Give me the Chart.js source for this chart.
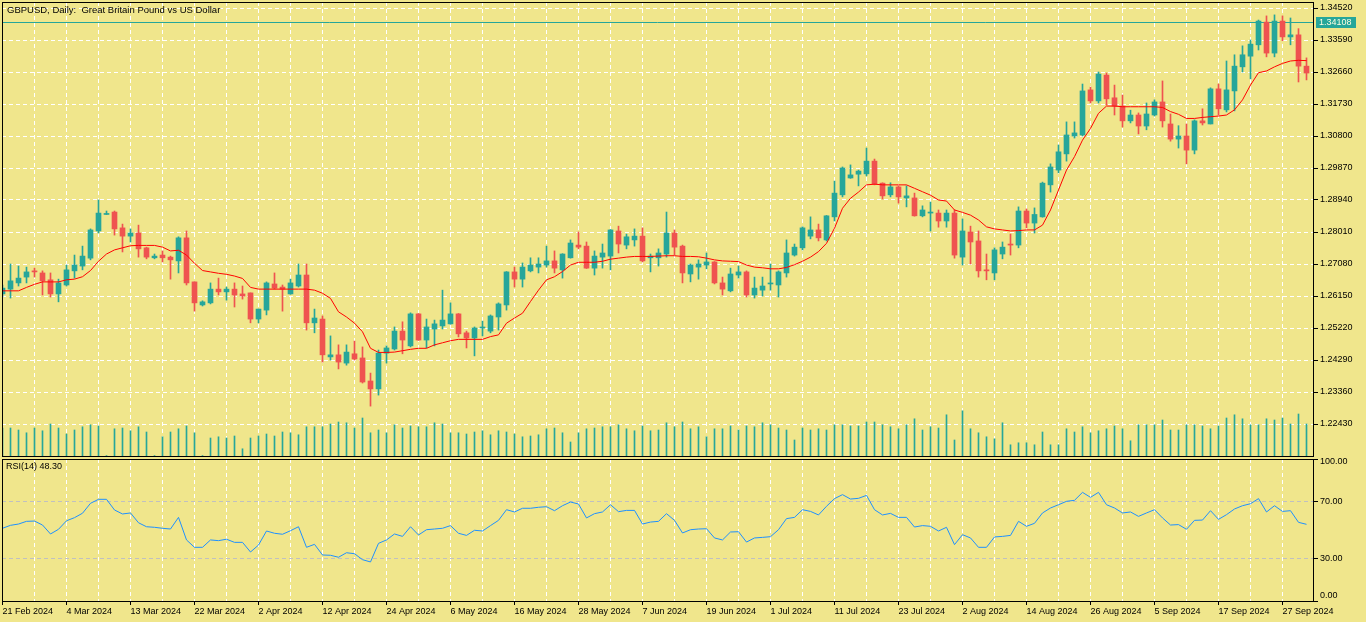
<!DOCTYPE html>
<html>
<head>
<meta charset="utf-8">
<script src="https://cdn.jsdelivr.net/npm/chart.js@4.4.1/dist/chart.umd.min.js"></script>
<style>
    body { margin: 0; background: #f0e68c; overflow: hidden; }
    #wrap { position: relative; width: 1366px; height: 622px; }
    .pane { position: absolute; left: 0; width: 1366px; }
    .txt { position: absolute; font: 9px "Liberation Sans", Arial, sans-serif; color: #000; white-space: pre; line-height: 11px; }
</style>
</head>
<body>
<div id="wrap">
    <div class="pane" style="top:0;height:458px"><canvas id="mainChart"></canvas></div>
    <div class="pane" style="top:456px;height:166px"><canvas id="rsiChart"></canvas></div>
    <div class="txt" style="left:7px;top:4px;font-size:9.5px">GBPUSD, Daily:  Great Britain Pound vs US Dollar</div>
    <div class="txt" style="left:6px;top:461px">RSI(14) 48.30</div>
</div>
<script>
const dateLabels = ['21 Feb 2024', '4 Mar 2024', '13 Mar 2024', '22 Mar 2024', '2 Apr 2024', '12 Apr 2024', '24 Apr 2024',
    '6 May 2024', '16 May 2024', '28 May 2024', '7 Jun 2024', '19 Jun 2024', '1 Jul 2024', '11 Jul 2024', '23 Jul 2024',
    '2 Aug 2024', '14 Aug 2024', '26 Aug 2024', '5 Sep 2024', '17 Sep 2024', '27 Sep 2024'];

const priceTicks = [1.22430, 1.23360, 1.24290, 1.25220, 1.26150, 1.27080, 1.28010, 1.28940, 1.29870, 1.30800, 1.31730, 1.32660, 1.33590, 1.34520];
const rsiTicks = [0, 30, 70, 100];
const currentPrice = 1.34108;

const opens = [1.2621,1.2635,1.2653,1.2670,1.2688,1.2682,1.2662,1.2621,1.2647,1.2688,
    1.2702,1.2725,1.2804,1.2852,1.2859,1.2813,1.2789,1.2798,1.2755,1.2726,
    1.2734,1.2728,1.2717,1.2784,1.2656,1.2589,1.2595,1.2635,1.2627,1.2635,
    1.2621,1.2624,1.2548,1.2574,1.2650,1.2641,1.2621,1.2644,1.2676,1.2537,
    1.2548,1.2438,1.2444,1.2420,1.2447,1.2435,1.2368,1.2345,1.2449,1.2461,
    1.2513,1.2470,1.2563,1.2487,1.2519,1.2528,1.2534,1.2563,1.2508,1.2493,
    1.2522,1.2513,1.2554,1.2589,1.2685,1.2664,1.2688,1.2699,1.2705,1.2717,
    1.2691,1.2726,1.2763,1.2760,1.2696,1.2728,1.2731,1.2804,1.2763,1.2778,
    1.2789,1.2726,1.2726,1.2737,1.2798,1.2760,1.2679,1.2699,1.2705,1.2714,
    1.2653,1.2630,1.2676,1.2685,1.2618,1.2632,1.2650,1.2647,1.2682,1.2734,
    1.2755,1.2789,1.2807,1.2778,1.2845,1.2909,1.2958,1.2969,1.2970,1.3007,
    1.2943,1.2909,1.2932,1.2900,1.2900,1.2848,1.2856,1.2856,1.2833,1.2856,
    1.2728,1.2801,1.2775,1.2691,1.2682,1.2737,1.2766,1.2763,1.2862,1.2827,
    1.2845,1.2938,1.2981,1.3028,1.3080,1.3083,1.3214,1.3182,1.3257,1.3191,
    1.3167,1.3124,1.3141,1.3109,1.3141,1.3179,1.3115,1.3071,1.3080,1.3039,
    1.3124,1.3115,1.3217,1.3156,1.3211,1.3281,1.3312,1.3345,1.3411,1.3321,
    1.3414,1.3368,1.3374,1.3283];

const highs = [1.2647,1.2708,1.2702,1.2699,1.2696,1.2688,1.2682,1.2664,1.2705,1.2734,
    1.2760,1.2810,1.2894,1.2862,1.2862,1.2824,1.2810,1.2821,1.2757,1.2737,
    1.2746,1.2731,1.2787,1.2804,1.2656,1.2601,1.2653,1.2667,1.2641,1.2653,
    1.2644,1.2624,1.2577,1.2656,1.2682,1.2647,1.2664,1.2708,1.2708,1.2577,
    1.2557,1.2499,1.2473,1.2473,1.2484,1.2467,1.2391,1.2458,1.2470,1.2525,
    1.2540,1.2566,1.2564,1.2548,1.2545,1.2632,1.2595,1.2564,1.2513,1.2525,
    1.2542,1.2560,1.2595,1.2686,1.2699,1.2711,1.2726,1.2726,1.2760,1.2746,
    1.2738,1.2778,1.2801,1.2772,1.2746,1.2766,1.2808,1.2818,1.2795,1.2810,
    1.2813,1.2737,1.2752,1.2859,1.2807,1.2763,1.2708,1.2720,1.2740,1.2715,
    1.2670,1.2696,1.2702,1.2688,1.2670,1.2670,1.2708,1.2688,1.2778,1.2766,
    1.2816,1.2845,1.2824,1.2849,1.2949,1.2990,1.2996,1.2981,1.3045,1.3013,
    1.2944,1.2944,1.2935,1.2935,1.2914,1.2877,1.2888,1.2865,1.2865,1.2865,
    1.2839,1.2818,1.2804,1.2737,1.2755,1.2772,1.2795,1.2874,1.2868,1.2871,
    1.2946,1.2999,1.3054,1.3121,1.3121,1.3231,1.3222,1.3266,1.3263,1.3228,
    1.3199,1.3155,1.3147,1.3176,1.3185,1.3240,1.3144,1.3110,1.3115,1.3127,
    1.3159,1.3220,1.3231,1.3298,1.3316,1.3342,1.3359,1.3417,1.3429,1.3432,
    1.3429,1.3423,1.3392,1.3307];

const lows = [1.2612,1.2609,1.2644,1.2653,1.2670,1.2618,1.2612,1.2598,1.2644,1.2667,
    1.2691,1.2720,1.2798,1.2852,1.2792,1.2743,1.2772,1.2728,1.2723,1.2723,
    1.2714,1.2664,1.2682,1.2647,1.2571,1.2586,1.2592,1.2618,1.2603,1.2583,
    1.2606,1.2537,1.2537,1.2560,1.2635,1.2571,1.2620,1.2641,1.2516,1.2508,
    1.2423,1.2429,1.2403,1.2414,1.2429,1.2362,1.2295,1.2327,1.2420,1.2458,
    1.2447,1.2467,1.2486,1.2464,1.2470,1.2519,1.2533,1.2496,1.2464,1.2441,
    1.2499,1.2508,1.2516,1.2574,1.2641,1.2641,1.2685,1.2682,1.2699,1.2682,
    1.2667,1.2725,1.2752,1.2695,1.2676,1.2696,1.2691,1.2740,1.2752,1.2760,
    1.2714,1.2685,1.2702,1.2728,1.2734,1.2653,1.2656,1.2664,1.2694,1.2650,
    1.2618,1.2627,1.2667,1.2612,1.2609,1.2615,1.2632,1.2612,1.2670,1.2731,
    1.2749,1.2781,1.2775,1.2775,1.2833,1.2903,1.2957,1.2935,1.2964,1.2938,
    1.2897,1.2903,1.2885,1.2874,1.2847,1.2845,1.2804,1.2815,1.2815,1.2725,
    1.2705,1.2708,1.2670,1.2662,1.2662,1.2723,1.2734,1.2755,1.2813,1.2798,
    1.2844,1.2917,1.2973,1.3007,1.3074,1.3080,1.3176,1.3176,1.3170,1.3141,
    1.3106,1.3118,1.3086,1.3098,1.3138,1.3106,1.3065,1.3045,1.2999,1.3028,
    1.3112,1.3115,1.3141,1.3150,1.3153,1.3266,1.3246,1.3330,1.3310,1.3310,
    1.3357,1.3345,1.3237,1.3243];

const closes = [1.2638,1.2659,1.2667,1.2685,1.2685,1.2659,1.2621,1.2653,1.2691,1.2705,
    1.2731,1.2807,1.2856,1.2853,1.2810,1.2789,1.2798,1.2752,1.2728,1.2731,
    1.2726,1.2720,1.2784,1.2653,1.2595,1.2598,1.2635,1.2627,1.2635,1.2618,
    1.2615,1.2548,1.2577,1.2653,1.2638,1.2635,1.2653,1.2676,1.2537,1.2551,
    1.2444,1.2444,1.2423,1.2452,1.2432,1.2365,1.2345,1.2449,1.2464,1.2513,
    1.2487,1.2563,1.2487,1.2525,1.2534,1.2545,1.2563,1.2505,1.2493,1.2522,
    1.2523,1.2557,1.2592,1.2685,1.2664,1.2699,1.2705,1.2708,1.2717,1.2696,
    1.2737,1.2769,1.2757,1.2696,1.2731,1.2740,1.2807,1.2766,1.2787,1.2789,
    1.2717,1.2731,1.2740,1.2798,1.2757,1.2682,1.2705,1.2708,1.2714,1.2653,
    1.2635,1.2679,1.2685,1.2618,1.2638,1.2644,1.2651,1.2685,1.2740,1.2757,
    1.2813,1.2807,1.2784,1.2848,1.2914,1.2987,1.2967,1.2978,1.3007,1.2941,
    1.2906,1.2932,1.2903,1.2906,1.2848,1.2865,1.2859,1.2833,1.2856,1.2734,
    1.2804,1.2772,1.2688,1.2688,1.2749,1.2757,1.2763,1.2862,1.2827,1.2852,
    1.2943,1.2990,1.3034,1.3083,1.3089,1.3211,1.3182,1.3260,1.3188,1.3167,
    1.3124,1.3141,1.3109,1.3144,1.3179,1.3124,1.3071,1.3080,1.3039,1.3124,
    1.3118,1.3217,1.3159,1.3214,1.3283,1.3316,1.3347,1.3414,1.3321,1.3414,
    1.3368,1.3374,1.3283,1.3263];

// moving average as drawn on the chart
const maValues = [1.2630,1.2630,1.2630,1.2640,1.2649,1.2656,1.2656,1.2656,1.2662,1.2664,
    1.2671,1.2689,1.2716,1.2737,1.2749,1.2755,1.2761,1.2762,1.2762,1.2762,
    1.2757,1.2746,1.2748,1.2734,1.2710,1.2689,1.2685,1.2681,1.2678,1.2673,
    1.2666,1.2640,1.2635,1.2635,1.2635,1.2635,1.2635,1.2635,1.2635,1.2632,
    1.2623,1.2608,1.2569,1.2554,1.2536,1.2511,1.2463,1.2451,1.2451,1.2452,
    1.2456,1.2460,1.2463,1.2463,1.2473,1.2479,1.2485,1.2489,1.2489,1.2489,
    1.2489,1.2497,1.2502,1.2536,1.2551,1.2565,1.2599,1.2632,1.2662,1.2671,
    1.2686,1.2705,1.2713,1.2713,1.2713,1.2716,1.2722,1.2725,1.2728,1.2730,
    1.2730,1.2730,1.2731,1.2732,1.2732,1.2730,1.2730,1.2729,1.2725,1.2720,
    1.2717,1.2716,1.2715,1.2705,1.2699,1.2697,1.2694,1.2694,1.2698,1.2706,
    1.2716,1.2728,1.2744,1.2768,1.2812,1.2870,1.2899,1.2917,1.2938,1.2940,
    1.2938,1.2938,1.2938,1.2938,1.2928,1.2918,1.2908,1.2894,1.2891,1.2865,
    1.2858,1.2850,1.2836,1.2816,1.2810,1.2807,1.2804,1.2805,1.2807,1.2807,
    1.2821,1.2865,1.2923,1.2981,1.3020,1.3068,1.3102,1.3146,1.3167,1.3167,
    1.3165,1.3165,1.3165,1.3165,1.3165,1.3163,1.3151,1.3143,1.3131,1.3131,
    1.3134,1.3136,1.3138,1.3141,1.3156,1.3185,1.3228,1.3264,1.3269,1.3281,
    1.3291,1.3298,1.3300,1.3299];

// tick volume, thousands
const volumes = [70,70,65,58,70,63,80,70,55,65,
    73,78,75,1,68,70,63,73,60,1,
    48,60,68,75,58,1,45,48,45,50,
    18,45,50,55,50,60,58,53,73,73,
    73,80,85,83,70,95,58,65,58,78,
    70,75,73,73,83,80,58,58,55,60,
    63,53,63,60,55,48,50,53,68,70,
    58,35,58,68,70,73,73,78,68,63,
    75,63,65,83,73,85,68,73,48,68,
    68,75,65,75,73,83,78,70,65,40,
    70,65,68,65,78,78,75,75,85,85,
    78,73,68,78,93,65,73,70,103,40,
    113,68,58,48,43,83,28,33,33,28,
    60,28,28,68,60,73,58,63,68,75,
    68,38,78,78,78,90,65,65,78,78,
    75,68,75,95,103,93,78,78,93,90,
    95,80,105,80];

const rsiValues = [51.2,53.3,54.2,56.1,56.3,53.5,47.2,50.5,56.5,58.7,
    61.8,68.8,71.6,71.6,64.1,61.3,62.0,55.1,52.3,51.9,
    51.2,50.7,58.9,43.0,37.8,37.8,43.0,42.5,43.5,41.3,
    41.3,34.5,39.4,49.3,47.7,47.0,49.5,52.3,37.8,39.9,
    32.4,32.2,30.8,34.0,33.3,29.1,27.5,40.6,43.0,47.2,
    45.5,52.3,46.5,50.2,50.7,51.2,53.1,47.7,46.2,49.8,
    49.3,53.1,56.8,64.3,62.7,65.3,65.3,66.0,66.4,63.6,
    67.1,69.7,68.3,58.5,61.5,62.7,67.8,62.9,63.8,63.8,
    54.2,55.6,56.1,61.5,56.8,47.9,50.2,50.7,50.9,44.4,
    43.0,48.6,48.8,41.5,44.4,44.8,45.3,50.2,58.0,58.9,
    64.3,63.1,60.6,66.7,72.1,74.9,71.8,72.3,74.4,64.3,
    60.6,61.7,58.9,58.9,52.1,53.1,52.6,49.3,51.9,39.7,
    46.7,44.4,37.8,37.8,45.1,45.5,46.2,56.1,52.6,54.7,
    62.0,65.5,67.8,70.2,70.9,76.5,73.0,76.5,67.8,65.5,
    62.0,62.7,59.6,62.0,64.3,58.5,53.5,53.8,50.5,56.8,
    57.0,63.6,57.5,60.8,64.8,67.1,68.5,72.1,62.7,67.1,
    63.1,63.6,55.4,54.0];

const UP = '#26a69a';
const DOWN = '#ef5350';
const FONT = { family: '"Liberation Sans", Arial, sans-serif', size: 9 };
const X_MIN = -0.0625, X_MAX = 163.8125;

Chart.defaults.font.family = FONT.family;
Chart.defaults.font.size = FONT.size;
Chart.defaults.color = '#000';

const candleColors = opens.map((o, i) => closes[i] >= o ? UP : DOWN);

function gridTicks(scale) {
    const t = [];
    for (let v = 0; v <= 160; v += 4) t.push({ value: v });
    scale.ticks = t;
}

// right axis: fixed width, no extra room for half labels
function fitRightAxis(s) {
    s.width = 53;
    s.paddingTop = 0;
    s.paddingBottom = 0;
}

// black frame round the plot area
const framePlugin = {
    id: 'frame',
    afterDraw(chart) {
        const a = chart.chartArea, ctx = chart.ctx;
        ctx.save();
        ctx.strokeStyle = '#000';
        ctx.lineWidth = 1;
        ctx.strokeRect(a.left + 0.5, a.top + 0.5, a.right - a.left, a.bottom - a.top);
        ctx.restore();
    }
};

const priceLinePlugin = {
    id: 'priceLine',
    beforeDatasetsDraw(chart) {
        const a = chart.chartArea, ctx = chart.ctx;
        const y = Math.round(chart.scales.y.getPixelForValue(currentPrice)) + 0.5;
        ctx.save();
        ctx.strokeStyle = UP;
        ctx.lineWidth = 1;
        ctx.beginPath();
        ctx.moveTo(a.left, y);
        ctx.lineTo(a.right, y);
        ctx.stroke();
        ctx.restore();
    },
    afterDraw(chart) {
        const a = chart.chartArea, ctx = chart.ctx;
        const y = Math.round(chart.scales.y.getPixelForValue(currentPrice));
        ctx.save();
        ctx.fillStyle = UP;
        ctx.fillRect(a.right + 3, y - 5, 40, 11);
        ctx.fillStyle = '#fffde0';
        ctx.font = '9px ' + FONT.family;
        ctx.textBaseline = 'middle';
        ctx.fillText(currentPrice.toFixed(5), a.right + 6, y + 0.5);
        ctx.restore();
    }
};

new Chart(document.getElementById('mainChart'), {
    type: 'bar',
    data: {
        datasets: [{
            label: 'Volume',
            yAxisID: 'yv',
            data: volumes.map((v, i) => ({ x: i, y: v })),
            backgroundColor: UP,
            barThickness: 1,
            grouped: false,
            order: 4
        }, {
            label: 'Wick',
            data: lows.map((l, i) => ({ x: i, y: [l, highs[i]] })),
            backgroundColor: candleColors,
            barThickness: 1,
            grouped: false,
            order: 3
        }, {
            label: 'Body',
            data: opens.map((o, i) => ({ x: i, y: [o, closes[i]] })),
            backgroundColor: candleColors,
            barThickness: 5,
            minBarLength: 1,
            grouped: false,
            order: 2
        }, {
            type: 'line',
            label: 'MA',
            data: maValues.map((v, i) => ({ x: i, y: v })),
            borderColor: '#ff0000',
            borderWidth: 1,
            pointRadius: 0,
            tension: 0,
            order: 1
        }]
    },
    options: {
        responsive: true,
        maintainAspectRatio: false,
        animation: false,
        events: [],
        layout: { padding: { left: 2, top: 2, right: 0, bottom: 2 } },
        plugins: { legend: { display: false }, tooltip: { enabled: false } },
        scales: {
            x: {
                type: 'linear',
                min: X_MIN,
                max: X_MAX,
                offset: false,
                afterBuildTicks: gridTicks,
                afterFit: s => { s.height = 0; s.paddingLeft = 0; s.paddingRight = 0; },
                ticks: { display: false },
                grid: { color: '#ffffff', drawTicks: false, offset: false },
                border: { display: false, dash: [4, 3] }
            },
            y: {
                position: 'right',
                min: 1.2150,
                max: 1.34694375,
                beginAtZero: false,
                afterBuildTicks: s => { s.ticks = priceTicks.map(v => ({ value: v })); },
                afterFit: fitRightAxis,
                ticks: { callback: v => v.toFixed(5), padding: 2, color: '#000', autoSkip: false },
                grid: { color: '#ffffff', tickColor: '#000', tickLength: 5 },
                border: { display: false, dash: [4, 3] }
            },
            yv: {
                display: false,
                min: 0,
                max: 1135
            }
        }
    },
    plugins: [priceLinePlugin, framePlugin]
});

// keep the 100 / 0 labels inside the pane, like the terminal does
const rsiLabelPlugin = {
    id: 'rsiLabels',
    beforeDraw(chart) {
        const s = chart.scales.y, a = chart.chartArea;
        s.getLabelItems().forEach(it => {
            const t = it.options.translation;
            t[1] = Math.min(Math.max(t[1], a.top + 3), a.bottom - 5);
        });
    }
};

new Chart(document.getElementById('rsiChart'), {
    type: 'line',
    data: {
        datasets: [{
            label: 'RSI(14)',
            data: rsiValues.map((v, i) => ({ x: i, y: v })),
            borderColor: '#1e90ff',
            borderWidth: 1,
            pointRadius: 0,
            tension: 0
        }]
    },
    options: {
        responsive: true,
        maintainAspectRatio: false,
        animation: false,
        events: [],
        layout: { padding: { left: 2, top: 3, right: 0, bottom: 0 } },
        plugins: { legend: { display: false }, tooltip: { enabled: false } },
        scales: {
            x: {
                type: 'linear',
                min: X_MIN,
                max: X_MAX,
                afterBuildTicks: gridTicks,
                afterFit: s => { s.height = 21; s.paddingLeft = 0; s.paddingRight = 0; },
                ticks: {
                    autoSkip: false,
                    maxRotation: 0,
                    minRotation: 0,
                    align: 'start',
                    padding: 1,
                    color: '#000',
                    callback: v => v % 8 === 0 ? dateLabels[v / 8] : ''
                },
                grid: {
                    color: '#ffffff',
                    tickLength: 4,
                    tickColor: c => (c.tick && c.tick.value % 8 === 0) ? '#000' : 'rgba(0,0,0,0)'
                },
                border: { display: false, dash: [4, 3] }
            },
            y: {
                position: 'right',
                min: 0,
                max: 100,
                afterBuildTicks: s => { s.ticks = rsiTicks.map(v => ({ value: v })); },
                afterFit: fitRightAxis,
                ticks: { callback: v => v.toFixed(2), padding: 2, color: '#000' },
                grid: {
                    color: c => (c.tick && (c.tick.value === 30 || c.tick.value === 70)) ? '#c0c0c0' : 'rgba(0,0,0,0)',
                    tickColor: '#000',
                    tickLength: 5
                },
                border: { display: false, dash: [4, 3] }
            }
        }
    },
    plugins: [rsiLabelPlugin, framePlugin]
});
</script>
</body>
</html>
